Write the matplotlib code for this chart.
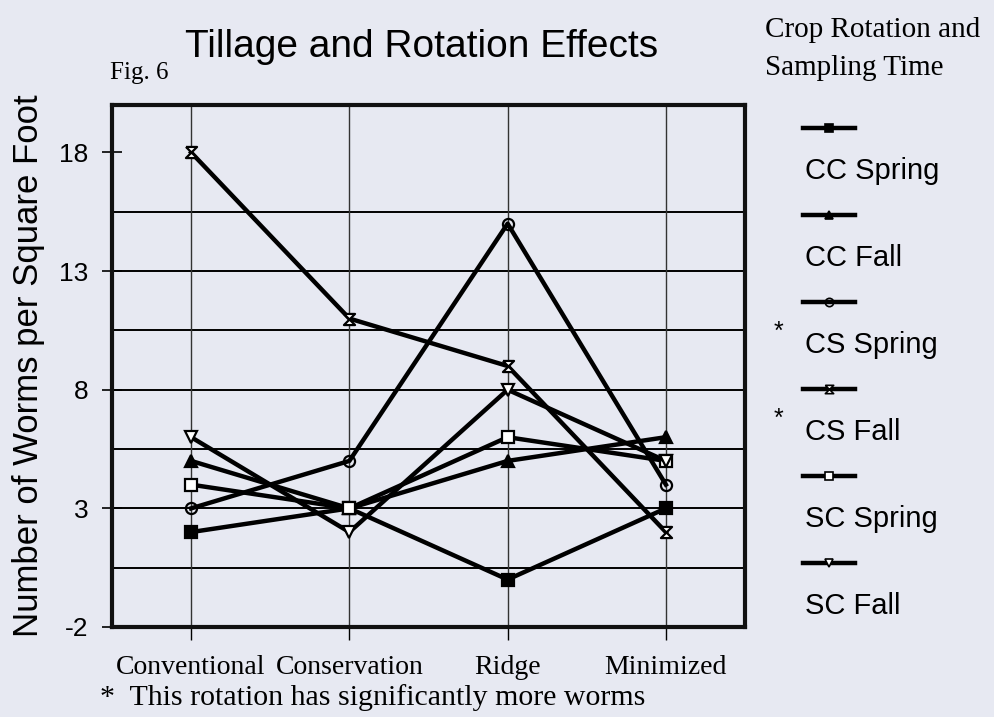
import numpy as np
import matplotlib
matplotlib.use("Agg")
import matplotlib.pyplot as plt
from matplotlib.lines import Line2D

# --- data ---
categories = ["Conventional", "Conservation", "Ridge", "Minimized"]
series_names = ["CC Spring", "CC Fall", "CS Spring", "CS Fall", "SC Spring", "SC Fall"]
cc_spring = [2, 3, 0, 3]
cc_fall = [5, 3, 5, 6]
cs_spring = [3, 5, 15, 4]
cs_fall = [18, 11, 9, 2]
sc_spring = [4, 3, 6, 5]
sc_fall = [6, 2, 8, 5]
significant = ["CS Spring", "CS Fall"]
y_ticks = [-2, 3, 8, 13, 18]
grid_levels = [0.5, 3, 5.5, 8, 10.5, 13, 15.5]

values = [cc_spring, cc_fall, cs_spring, cs_fall, sc_spring, sc_fall]
hourglass = [(-1, 1), (1, 1), (-1, -1), (1, -1), (-1, 1)]
styles = [
    dict(marker="s", mfc="black", ms=8),
    dict(marker="^", mfc="black", ms=8),
    dict(marker="o", mfc="none", ms=8),
    dict(marker=hourglass, mfc="white", ms=8),
    dict(marker="s", mfc="white", ms=8),
    dict(marker="v", mfc="white", ms=8),
]

BG = "#e7e9f2"
SERIF = ["Liberation Serif", "DejaVu Serif"]
SANS = ["Liberation Sans", "DejaVu Sans"]

W, H = 995, 717
fig = plt.figure(figsize=(W / 100, H / 100), dpi=100, facecolor=BG)


def fx(px):
    return px / W


def fy(py):
    return 1 - py / H


ax = fig.add_axes([fx(112), fy(627), fx(745) - fx(112), fy(105) - fy(627)])
ax.set_facecolor(BG)

x = np.arange(len(categories)) + 0.5
for lvl in grid_levels:
    ax.axhline(lvl, color="black", lw=1.4, zorder=1)
for xi in x:
    ax.axvline(xi, color="#333333", lw=1.0, zorder=1)

for vals, st in zip(values, styles):
    ax.plot(x, vals, color="black", lw=3.2, mec="black", mew=1.6,
            zorder=3, clip_on=False, **st)

ax.set_xlim(0, 4)
ax.set_ylim(-2, 20)
ax.set_xticks(x)
ax.set_xticklabels(categories, family=SERIF, fontsize=20)
ax.set_yticks(y_ticks)
ax.set_yticklabels([str(t) for t in y_ticks], family=SANS, fontsize=19)
ax.tick_params(axis="y", direction="inout", length=14, width=1.2, pad=10)
ax.tick_params(axis="x", direction="out", length=9, width=1.0, pad=11)
for s in ax.spines.values():
    s.set_linewidth(3)
    s.set_color("#111111")

ax.set_ylabel("Number of Worms per Square Foot", family=SANS, fontsize=25,
              labelpad=10)

# titles and notes
fig.text(fx(422), fy(47), "Tillage and Rotation Effects", family=SANS,
         fontsize=28, ha="center", va="center")
fig.text(fx(110), fy(73), "Fig. 6", family=SERIF, fontsize=18,
         ha="left", va="center")
fig.text(fx(765), fy(30), "Crop Rotation and", family=SERIF, fontsize=21,
         ha="left", va="center")
fig.text(fx(765), fy(68), "Sampling Time", family=SERIF, fontsize=21,
         ha="left", va="center")
fig.text(fx(100), fy(698), "*  This rotation has significantly more worms",
         family=SERIF, fontsize=21.5, ha="left", va="center")

# legend: line sample above each label
y0, dy = 128, 87
for i, (name, st) in enumerate(zip(series_names, styles)):
    ly = y0 + i * dy
    fig.add_artist(Line2D([fx(803), fx(855)], [fy(ly), fy(ly)],
                          transform=fig.transFigure, color="black", lw=3.2))
    fig.add_artist(Line2D([fx(829)], [fy(ly)], transform=fig.transFigure,
                          color="black", mec="black", mew=1.2,
                          marker=st["marker"], mfc=st["mfc"], ms=6))
    fig.text(fx(805), fy(ly + 43), name, family=SANS, fontsize=21,
             ha="left", va="center")
    if name in significant:
        fig.text(fx(778), fy(ly + 30), "*", family=SANS, fontsize=18,
                 ha="center", va="center")

fig.savefig("out.png", dpi=100, facecolor=BG)
